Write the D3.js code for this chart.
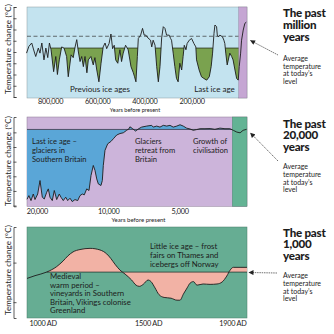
<!DOCTYPE html>
<html><head><meta charset="utf-8">
<script src="https://cdn.jsdelivr.net/npm/d3@7"></script>
<style>
html,body{margin:0;padding:0;background:#fff;}
svg{display:block;font-family:Lato,"Noto Sans",sans-serif;}
</style></head><body>
<svg id="c" width="334" height="334"></svg>
<script>
// ---------- DATA ----------
// Panel 1: the past million years (years before present, temperature change)
const p1Years = [900000,890000,878000,867000,861000,850000,843000,835000,826000,818000,
 810000,803000,796000,785000,776000,769000,761000,751000,741000,730000,
 723000,711000,702000,694000,687000,680000,673000,666000,659000,652000,
 644000,638000,627000,617000,610000,602000,593000,584000,575000,567000,
 560000,550000,542000,535000,528000,522000,513000,504000,497000,490000,
 480000,469000,457000,447000,442000,436000,430000,426000,416000,408000,
 401000,394000,385000,374000,369000,363000,355000,348000,341000,334000,
 327000,320000,313000,306000,295000,289000,285000,278000,271000,264000,
 257000,250000,242000,236000,231000,224000,219000,210000,200000,190000,
 182000,179000,168000,158000,148000,136000,125000,117000,111000,105000,
 101000,94000,91000,87000,80000,69000,63000,59000,55000,49000,
 38000,30000,24000,16000,9000,2000,-2000,-8000,-12000,-19000,-26000,-32000];
const p1Temp = [-0.1,0.5,0.8,0.0,-0.4,0.35,-0.1,0.8,-0.7,0.35,
 -0.5,0.8,0.2,-1.75,-0.4,-2.0,-0.7,0.45,0.35,-0.4,
 -2.2,-0.25,-0.5,0.45,1.1,0.0,-0.85,-0.4,-1.3,-0.4,
 -1.85,-0.7,-0.4,-1.15,-0.5,-1.6,-2.65,-1.0,0.45,0.8,
 0.3,0.75,1.6,0.3,0.6,-0.7,-1.0,0.2,-0.85,-0.1,
 0.6,0.2,-1.3,-1.85,-2.2,-2.65,-0.4,1.2,1.5,2.1,
 1.5,1.5,1.25,1.05,0.45,1.05,0.6,-1.3,-2.65,-1.3,
 1.25,2.25,2.1,1.5,1.5,1.2,1.05,-0.1,-1.3,-2.35,
 -2.65,-1.0,-1.6,-0.4,0.6,0.2,0.75,1.05,1.2,0.75,
 0.45,-0.7,-1.6,-2.2,-2.35,-2.5,-2.2,-1.3,-0.1,1.65,
 2.4,2.25,1.5,1.35,1.5,1.35,1.05,0.75,-0.1,-1.15,
 -0.1,-0.4,-0.7,-1.6,-2.35,-2.5,-1.3,-0.1,1.05,1.95,2.55,2.65];
const p1XTicks = [800000,600000,400000,200000];
const p1YTicks = [-4,-3,-2,-1,0,1,2,3,4];
const p1Average = 0.35;      // "ice age" threshold line
const p1Today = 1.4;         // dashed: today's level
const p1FillFrom = 797000;   // shading starts here
const p1Highlight = [0,-35000];

// Panel 2: the past 20,000 years
const p2Years = [22000,21600,21160,20700,20360,19830,19390,18960,18600,18170,
 17890,17600,17210,16880,16490,16080,15820,15470,15110,14820,
 14490,14180,13810,13450,13150,12860,12620,12320,12050,11820,
 11560,11370,11180,11010,10730,10590,10490,10320,10050,9740,
 9520,9210,8920,8640,8360,8170,8100,7900,7670,7420,
 7230,6880,6560,6460,6250,6050,5860,5670,5490,5320,
 5140,4980,4830,4670,4520,4380,4240,4100,3910,3720,
 3550,3380,3220,3070,2970,2870,2780,2700,2610];
const p2Temp = [-4.57,-4.32,-4.66,-4.21,-4.59,-4.21,-3.29,-4.43,-4.55,-4.09,
 -3.86,-4.43,-4.66,-3.97,-4.59,-4.21,-4.43,-4.66,-4.43,-4.66,
 -4.50,-4.73,-4.59,-4.66,-4.32,-4.21,-4.27,-3.86,-3.97,-2.95,
 -2.26,-2.60,-3.18,-3.52,-3.63,-3.29,-2.26,-1.23,-0.78,-0.62,
 -0.44,-0.18,-0.08,-0.03,0.14,0.25,0.38,0.26,0.09,0.26,
 0.36,0.43,0.48,0.36,0.43,0.36,0.48,0.43,0.48,0.36,
 0.43,0.52,0.43,0.29,0.23,0.14,0.19,0.25,0.25,0.26,
 0.21,0.29,0.25,0.25,0.14,0.02,-0.03,0.14,0.21];
const p2XTicks = [20000,10000,5000];
const p2YTicks = [-5,-4,-3,-2,-1,0];
const p2Average = 0.2;
const p2Highlight = [3000,2600];

// Panel 3: the past 1,000 years
const p3Years = [926,964,1019,1067,1097,1120,1144,1177,1225,1272,
 1304,1324,1343,1367,1391,1422,1443,1459,1477,1500,
 1514,1533,1552,1576,1609,1637,1651,1668,1685,1699,
 1715,1732,1761,1794,1827,1851,1873,1889,1904,1936,1969];
const p3Temp = [-0.40,-0.33,-0.24,-0.10,0.04,0.17,0.27,0.33,0.36,0.32,
 0.22,0.10,-0.04,-0.19,-0.29,-0.44,-0.57,-0.60,-0.55,-0.44,
 -0.48,-0.64,-0.81,-0.88,-0.90,-0.95,-0.95,-0.79,-0.64,-0.52,
 -0.48,-0.57,-0.54,-0.55,-0.54,-0.49,-0.34,-0.19,-0.12,-0.12,-0.12];
const p3XTicks = [1000,1500,1900];
const p3YTicks = [-1,0];
const p3Average = -0.24;
const p3FillFrom = 1019;

// ---------- DRAWING ----------
const svg = d3.select("#c");
const ink = "#1c1c1c";
const L = 27, R = 247;

const defs = svg.append("defs");
defs.append("marker").attr("id","ah").attr("viewBox","0 0 10 10")
  .attr("refX",9).attr("refY",5).attr("markerWidth",6).attr("markerHeight",5)
  .attr("markerUnits","userSpaceOnUse").attr("orient","auto")
  .append("path").attr("d","M0,0L10,5L0,10z").attr("fill","#222");

function yAxis(scale, ticks){
  const g = svg.append("g").attr("transform","translate(13.5,0)")
    .call(d3.axisRight(scale).tickValues(ticks).tickSize(3).tickSizeOuter(3).tickFormat(""));
  g.selectAll("path,line").attr("stroke","#333").attr("stroke-width",0.8);
}
function yTitle(cy){
  svg.append("text").attr("transform",`translate(10.5,${cy}) rotate(-90)`)
    .attr("text-anchor","middle").attr("font-size",8).attr("letter-spacing",0.15)
    .attr("fill",ink).text("Temperature change (°C)");
}
function xAxis(scale, ticks, y, fmt, pad){
  const g = svg.append("g").attr("transform",`translate(0,${y})`)
    .call(d3.axisBottom(scale).tickValues(ticks).tickSize(0).tickPadding(pad).tickFormat(fmt));
  g.select(".domain").remove();
  g.selectAll("text").attr("font-size",7.3).attr("font-family",'Lato,"Noto Sans",sans-serif')
    .attr("letter-spacing",-0.25).attr("fill",ink);
}
function label(x, y, lines, size, anchor, lh, weight){
  const t = svg.append("text").attr("x",x).attr("y",y).attr("font-size",size)
    .attr("text-anchor",anchor||"start").attr("fill",ink);
  if(weight) t.attr("font-weight",weight);
  lines.forEach((s,i)=>t.append("tspan").attr("x",x).attr("y",y+i*lh).text(s));
  return t;
}
function heading(y, second){
  label(283, y, ["The past", second, "years"], 11.6, "start", 11.6, 900).attr("letter-spacing",-0.25);
}
function avgNote(y){
  label(283, y, ["Average","temperature","at today\u2019s","level"], 7, "start", 7.7);
}
function arrow(x1,y1,x2,y2){
  svg.append("line").attr("x1",x1).attr("y1",y1).attr("x2",x2).attr("y2",y2)
    .attr("stroke","#333").attr("stroke-width",0.7).attr("stroke-dasharray","1.5,0.8")
    .attr("marker-end","url(#ah)");
}

// ===== Panel 1 =====
(function(){
  const top=7, bot=98;
  const x = d3.scaleLinear().domain([898000,-35000]).range([L,R]);
  const y = d3.scaleLinear().domain([-4,4]).range([97,7]);
  svg.append("rect").attr("x",L).attr("y",top).attr("width",R-L).attr("height",bot-top)
    .attr("fill","#c3e3ef").attr("stroke","#8a9aa0").attr("stroke-width",0.5);
  // runs below the threshold, starting at p1FillFrom
  const pts = p1Years.map((v,i)=>({v,t:p1Temp[i]})).filter(d=>d.v<=p1FillFrom);
  const runs=[]; let cur=null;
  pts.forEach((d,i)=>{
    const below = d.t < p1Average;
    if(i>0){
      const p = pts[i-1], pb = p.t < p1Average;
      if(below!==pb){
        const f=(p1Average-p.t)/(d.t-p.t);
        const c={v:p.v+f*(d.v-p.v), t:p1Average};
        if(below){ cur=[c]; } else { cur.push(c); runs.push(cur); cur=null; }
      }
    }
    if(below){ if(!cur) cur=[{v:d.v,t:p1Average}]; cur.push(d); }
  });
  if(cur){ cur.push({v:cur[cur.length-1].v,t:p1Average}); runs.push(cur); }
  const area = d3.area().x(d=>x(d.v)).y0(y(p1Average)).y1(d=>y(d.t));
  runs.forEach(r=>{
    svg.append("path").attr("d",area(r)).attr("fill","#7aa24f");
    svg.append("line").attr("x1",x(r[0].v)).attr("x2",x(r[r.length-1].v))
      .attr("y1",y(p1Average)).attr("y2",y(p1Average)).attr("stroke","#2b3320").attr("stroke-width",0.8);
  });
  svg.append("line").attr("x1",L).attr("x2",x(p1Highlight[0])).attr("y1",y(p1Today)).attr("y2",y(p1Today))
    .attr("stroke","#333").attr("stroke-width",0.7).attr("stroke-dasharray","4,2.5");
  svg.append("rect").attr("x",x(p1Highlight[0])).attr("y",top).attr("width",x(p1Highlight[1])-x(p1Highlight[0]))
    .attr("height",bot-top).attr("fill","#c5a6d3").attr("stroke","#8a7a94").attr("stroke-width",0.4);
  svg.append("path").datum(p1Years.map((v,i)=>[v,p1Temp[i]]))
    .attr("d",d3.line().x(d=>x(d[0])).y(d=>y(d[1])))
    .attr("fill","none").attr("stroke",ink).attr("stroke-width",0.9).attr("stroke-linejoin","round");
  yAxis(y,p1YTicks); yTitle(49);
  xAxis(x,p1XTicks,bot,d3.format(","),1);
  svg.append("text").attr("x",135).attr("y",111.5).attr("text-anchor","middle").attr("font-size",5.6)
    .attr("fill",ink).text("Years before present");
  label(100,91.5,["Previous ice ages"],8,"middle",0);
  label(214.5,91.5,["Last ice age"],8,"middle",0);
  heading(17.3,"million"); avgNote(61); arrow(278,55,250.5,40.5);
})();

// ===== Panel 2 =====
(function(){
  const top=117, bot=206.3;
  const x = d3.scaleLog().domain([22000,2600]).range([L,R]);
  const y = d3.scaleLinear().domain([-5.05,1.05]).range([bot,top]);
  svg.append("rect").attr("x",L).attr("y",top).attr("width",R-L).attr("height",bot-top)
    .attr("fill","#ccb4da").attr("stroke","#8a7a94").attr("stroke-width",0.5);
  const data = p2Years.map((v,i)=>[v,p2Temp[i]]);
  svg.append("path").datum(data)
    .attr("d",d3.area().x(d=>x(d[0])).y0(y(p2Average)).y1(d=>y(d[1]))).attr("fill","#5aa6d7");
  svg.append("line").attr("x1",L).attr("x2",x(p2Highlight[0])).attr("y1",y(p2Average)).attr("y2",y(p2Average))
    .attr("stroke","#3a3a4a").attr("stroke-width",0.8);
  svg.append("rect").attr("x",x(p2Highlight[0])).attr("y",top).attr("width",x(p2Highlight[1])-x(p2Highlight[0]))
    .attr("height",bot-top).attr("fill","#63b394").attr("stroke","#4c7f6c").attr("stroke-width",0.4);
  svg.append("path").datum(data).attr("d",d3.line().x(d=>x(d[0])).y(d=>y(d[1])))
    .attr("fill","none").attr("stroke",ink).attr("stroke-width",0.9).attr("stroke-linejoin","round");
  yAxis(y,p2YTicks); yTitle(161);
  xAxis(x,p2XTicks,bot,d3.format(","),2.5);
  svg.append("text").attr("x",138.5).attr("y",222).attr("text-anchor","middle").attr("font-size",6)
    .attr("fill",ink).text("Years before present");
  label(32,144,["Last ice age \u2013","glaciers in","Southern Britain"],7.6,"start",9);
  label(135,144,["Glaciers","retreat from","Britain"],7.6,"start",9);
  label(193,144,["Growth of","civilisation"],7.6,"start",9);
  heading(127.7,"20,000"); avgNote(169.3); arrow(278,161,250.5,133);
})();

// ===== Panel 3 =====
(function(){
  const top=227, bot=318;
  const x = d3.scaleLinear().domain([926,1969]).range([L,R]);
  const y = d3.scaleLinear().domain([-1.4,0.9]).range([bot,top]);
  svg.append("rect").attr("x",L).attr("y",top).attr("width",R-L).attr("height",bot-top)
    .attr("fill","#66ad93").attr("stroke","#4a7d6a").attr("stroke-width",0.5);
  const data = p3Years.map((v,i)=>[v,p3Temp[i]]);
  const fillData = data.filter(d=>d[0]>=p3FillFrom);
  svg.append("path").datum(fillData)
    .attr("d",d3.area().curve(d3.curveMonotoneX).x(d=>x(d[0])).y0(y(p3Average)).y1(d=>y(d[1])))
    .attr("fill","#f2b2a5");
  svg.append("line").attr("x1",x(p3FillFrom)).attr("x2",R).attr("y1",y(p3Average)).attr("y2",y(p3Average))
    .attr("stroke","#263a32").attr("stroke-width",0.8);
  svg.append("path").datum(data).attr("d",d3.line().curve(d3.curveMonotoneX).x(d=>x(d[0])).y(d=>y(d[1])))
    .attr("fill","none").attr("stroke",ink).attr("stroke-width",0.9);
  yAxis(y,p3YTicks); yTitle(270);
  xAxis(x,p3XTicks,bot,d=>d+" AD",2.5);
  label(150,248.5,["Little ice age \u2013 frost","fairs on Thames and","icebergs off Norway"],7.8,"start",9.3);
  label(50,279,["Medieval","warm period \u2013","vineyards in Southern","Britain, Vikings colonise","Greenland"],7.8,"start",8.5);
  heading(236.7,"1,000"); avgNote(278.3); arrow(277,273,249,272.5);
})();
</script>
</body></html>
